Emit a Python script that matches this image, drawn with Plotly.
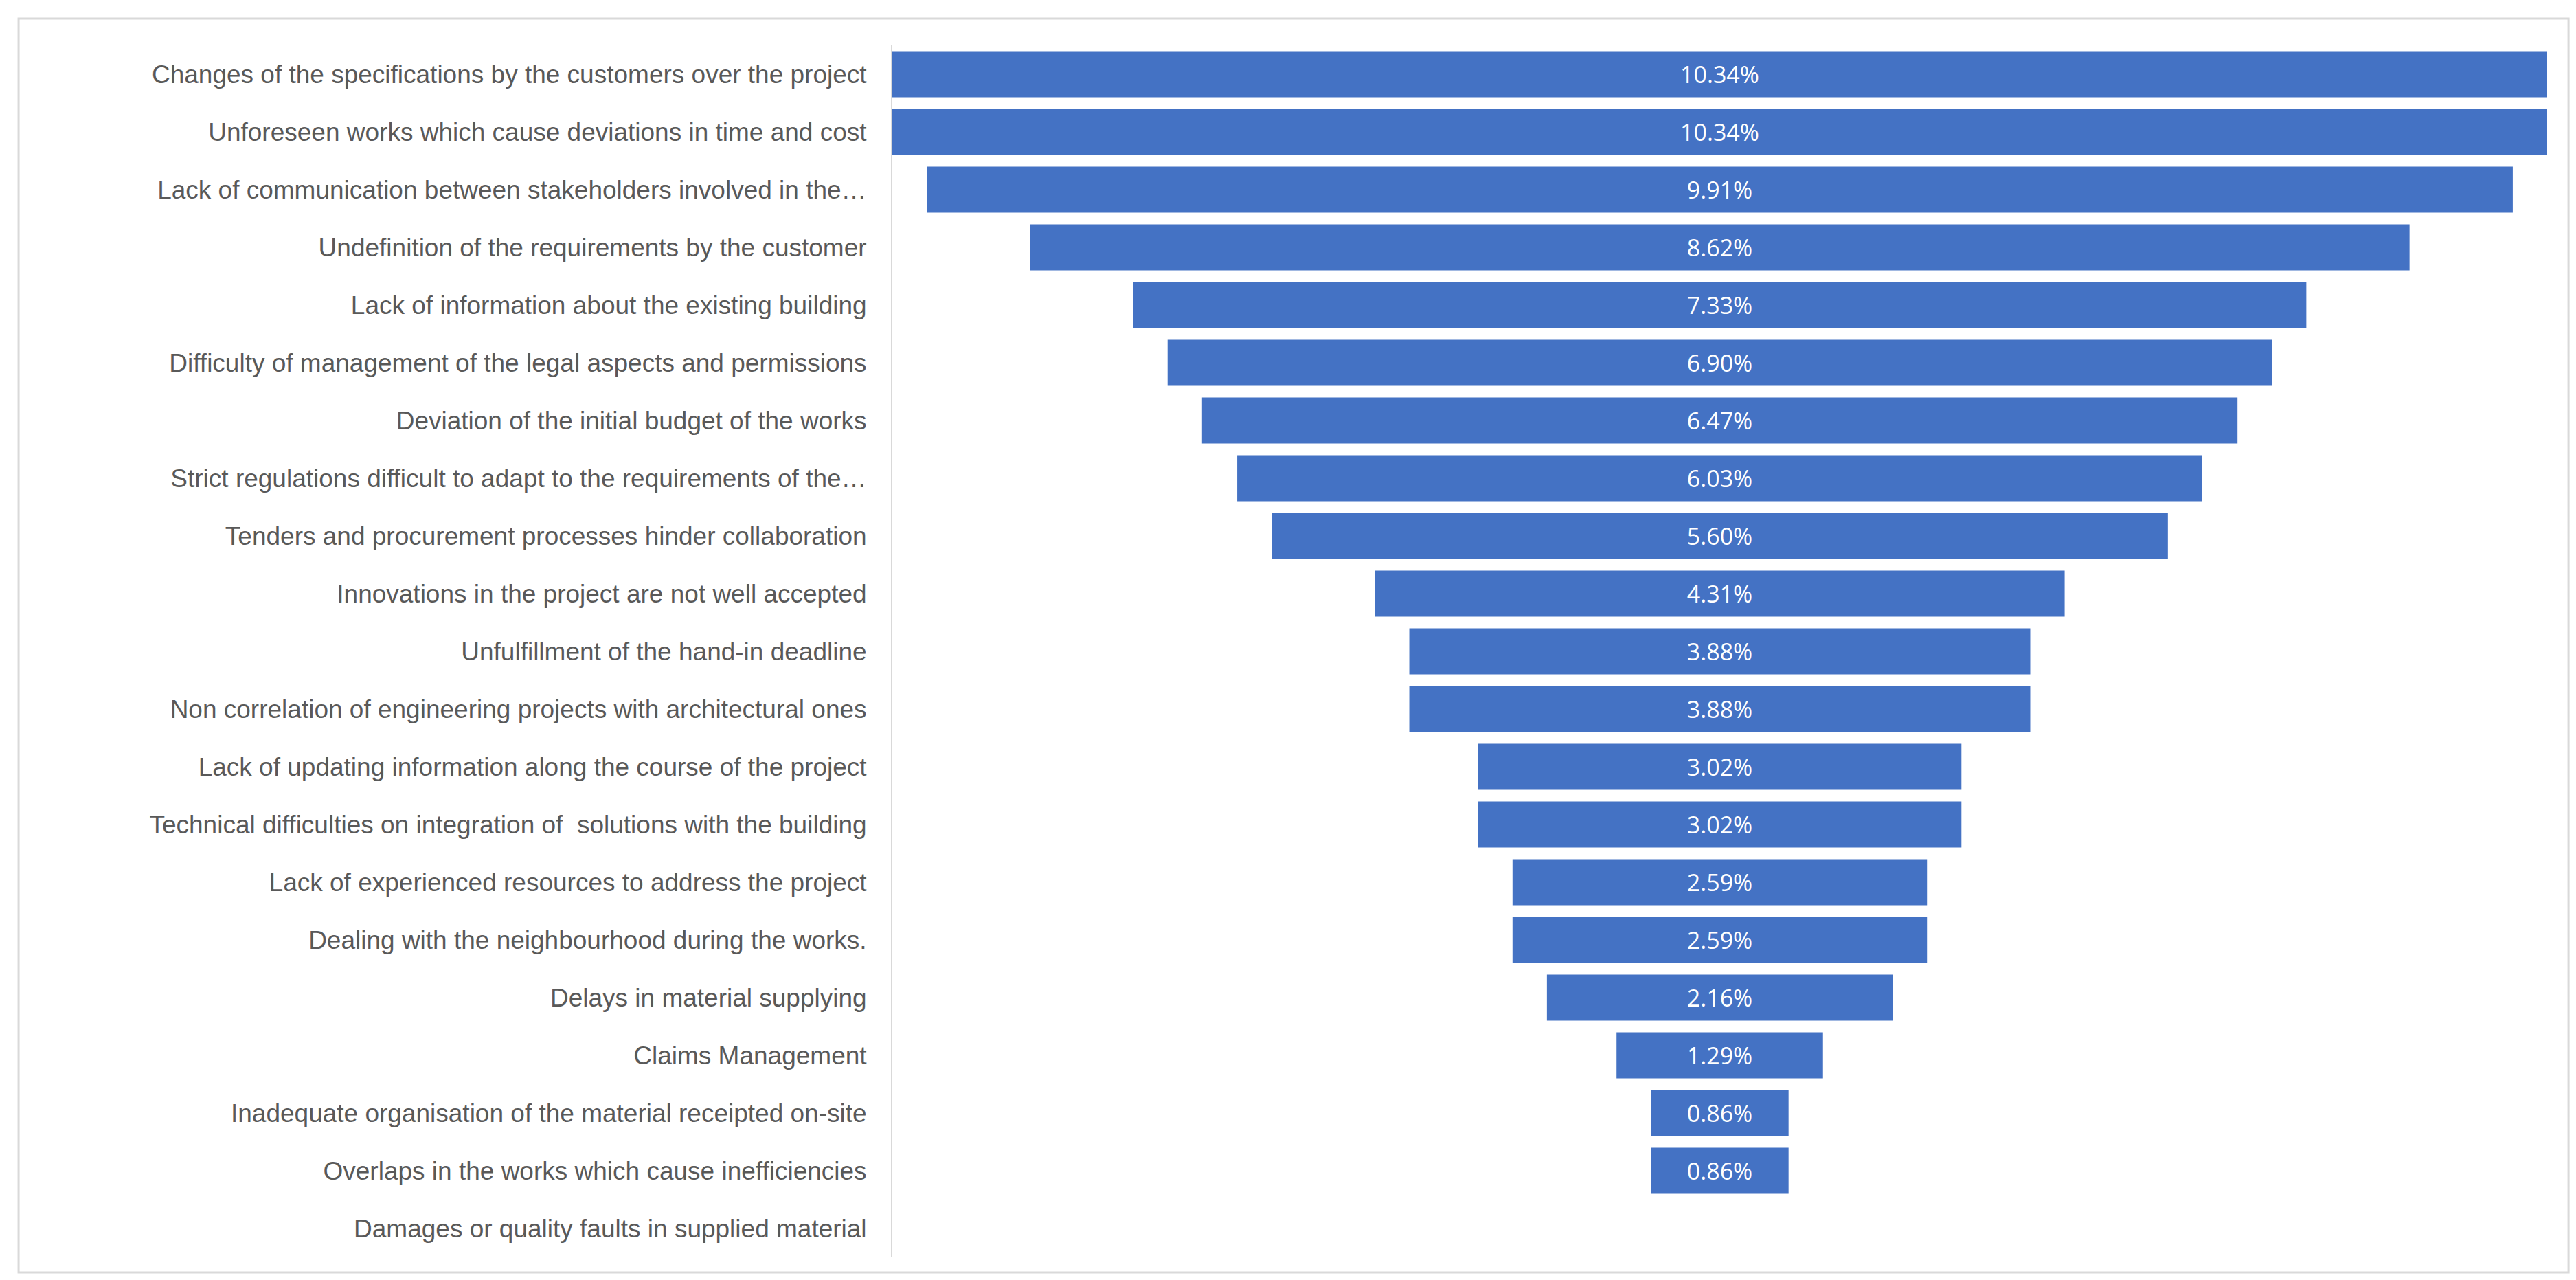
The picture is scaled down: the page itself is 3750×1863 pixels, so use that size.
import plotly.graph_objects as go

categories = [
    "Changes of the specifications by the customers over the project",
    "Unforeseen works which cause deviations in time and cost",
    "Lack of communication between stakeholders involved in the…",
    "Undefinition of the requirements by the customer",
    "Lack of information about the existing building",
    "Difficulty of management of the legal aspects and permissions",
    "Deviation of the initial budget of the works",
    "Strict regulations difficult to adapt to the requirements of the…",
    "Tenders and procurement processes hinder collaboration",
    "Innovations in the project are not well accepted",
    "Unfulfillment of the hand-in deadline",
    "Non correlation of engineering projects with architectural ones",
    "Lack of updating information along the course of the project",
    "Technical difficulties on integration of  solutions with the building",
    "Lack of experienced resources to address the project",
    "Dealing with the neighbourhood during the works.",
    "Delays in material supplying",
    "Claims Management",
    "Inadequate organisation of the material receipted on-site",
    "Overlaps in the works which cause inefficiencies",
    "Damages or quality faults in supplied material",
]
values = [10.34, 10.34, 9.91, 8.62, 7.33, 6.90, 6.47, 6.03, 5.60, 4.31, 3.88,
          3.88, 3.02, 3.02, 2.59, 2.59, 2.16, 1.29, 0.86, 0.86, 0.0]
labels = [f"{v:.2f}%" if v > 0 else "" for v in values]

fig = go.Figure(go.Funnel(
    y=categories, x=values, text=labels, textinfo="text",
    textposition="inside", insidetextanchor="middle",
    marker=dict(color="#4472C4", line=dict(width=0)),
    connector=dict(visible=False),
    textfont=dict(family="Open Sans", size=34, color="white"),
))
fig.update_layout(
    width=3750, height=1863,
    paper_bgcolor="white", plot_bgcolor="white",
    margin=dict(l=1291, r=50, t=58, b=41),
    bargap=0.11, showlegend=False,
    font=dict(family="Liberation Sans", size=37, color="#595959"),
    xaxis=dict(visible=False, range=[-5.17, 5.17]),
    yaxis=dict(showline=True, linecolor="#d9d9d9", linewidth=2,
               ticks="", showgrid=False, ticklabelstandoff=28,
               tickfont=dict(family="Liberation Sans", size=37, color="#595959")),
    shapes=[dict(type="rect", xref="paper", yref="paper",
                 x0=-0.528, x1=1.0129, y0=-0.0125, y1=1.0221,
                 line=dict(color="#d9d9d9", width=3))],
)
fig.write_html("out.html")
